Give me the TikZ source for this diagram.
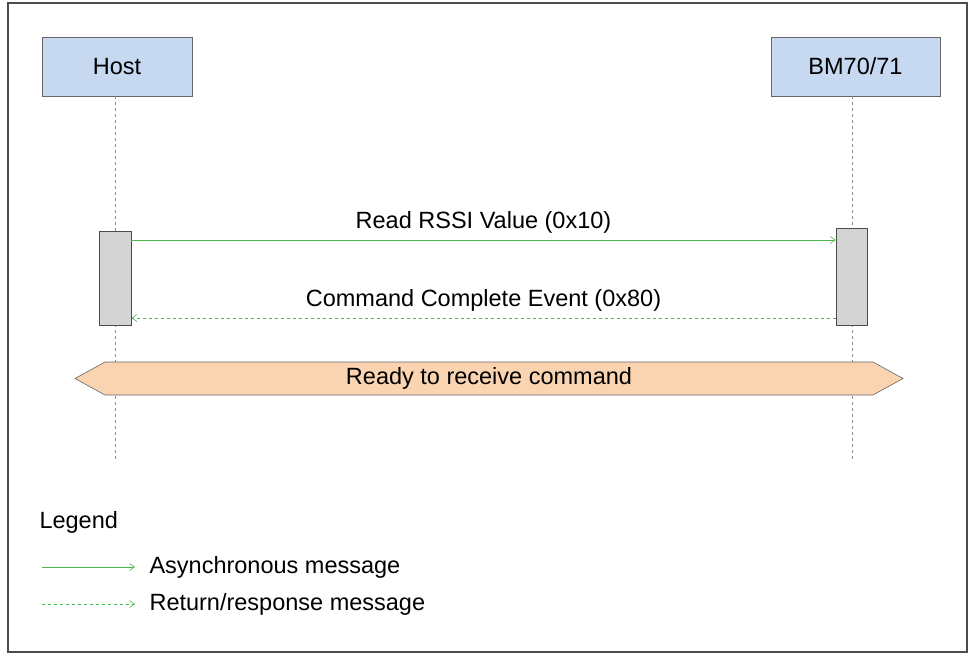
\documentclass[tikz,border=0pt]{standalone}
\usepackage{fontspec}
\setmainfont{Liberation Sans}
\usetikzlibrary{arrows.meta}
\definecolor{actfill}{RGB}{198,217,240}
\definecolor{bandfill}{RGB}{250,212,176}
\begin{document}
\begin{tikzpicture}[x=1pt,y=-1pt,font=\fontsize{23.5}{26}\selectfont,
  actor/.style={draw=black!60,fill=actfill,line width=0.8pt},
  act/.style={draw=black!70,fill=black!17,line width=0.8pt},
  life/.style={draw=black!45,dashed,line width=0.6pt},
  msg/.style={draw=green!60!black!70,line width=0.6pt,-{Straight Barb[length=5pt,width=7pt]}},
  ret/.style={msg,dashed}]
\useasboundingbox (0,0) rectangle (971,654);
\draw[black!70,line width=1.2pt] (8,3) rectangle (967,652);
\node[actor,minimum width=150,minimum height=59] (host) at (117,66.5) {Host};
\node[actor,minimum width=169,minimum height=59] (bm) at (855.5,66.5) {BM70/71};
\coordinate (hend) at (115,462);
\coordinate (bend) at (852,462);
\draw[life] (115,96) -- (hend);
\draw[life] (852,96) -- (bend);
\node[act,minimum width=32,minimum height=94] (ha) at (115,278) {};
\node[act,minimum width=31,minimum height=97] (ba) at (851.5,276.5) {};
\draw[msg] (ha.east |- 0,240) -- node[above=3pt] {Read RSSI Value (0x10)} (ba.west |- 0,240);
\draw[ret] (ba.west |- 0,318) -- node[above=3pt] {Command Complete Event (0x80)} (ha.east |- 0,318);
\draw[draw=black!60,fill=bandfill,line width=0.6pt] (75,378.5) -- (105,362) -- (873,362) -- (903,378.5) -- (873,395) -- (105,395) -- cycle;
\node (band) at (489,378.5) {Ready to receive command};
\node[anchor=west] (leg) at (36,522) {Legend};
\coordinate (a1) at (42,567); \coordinate (a2) at (135,567);
\coordinate (b1) at (42,604); \coordinate (b2) at (135,604);
\draw[msg] (a1) -- (a2);
\draw[ret] (b1) -- (b2);
\node[anchor=west] (t1) at (146,567) {Asynchronous message};
\node[anchor=west] (t2) at (146,604) {Return/response message};
\end{tikzpicture}
\end{document}
